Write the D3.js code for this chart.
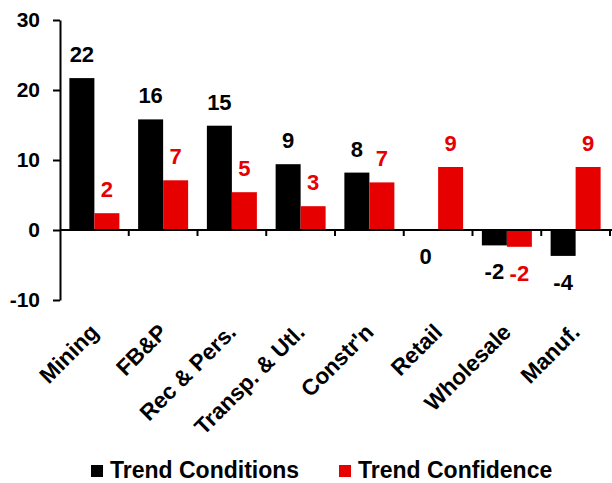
<!DOCTYPE html>
<html>
<head>
<meta charset="utf-8">
<script src="https://cdn.jsdelivr.net/npm/d3@7"></script>
<style>
  html, body { margin: 0; padding: 0; background: #fff; }
  svg { display: block; font-family: "Liberation Sans", Arial, sans-serif; font-weight: bold; }
</style>
</head>
<body>
<svg id="chart" width="612" height="483"></svg>
<script>
// Sectors and the two series plotted for each one
const categories = ["Mining", "FB&P", "Rec & Pers.", "Transp. & Utl.", "Constr'n", "Retail", "Wholesale", "Manuf."];
const trendConditions = [21.7, 15.8, 14.9, 9.4, 8.2, 0, -2.2, -3.7];
const trendConfidence = [2.4, 7.1, 5.4, 3.4, 6.8, 9.0, -2.4, 9.0];
const seriesNames = ["Trend Conditions", "Trend Confidence"];
const seriesColors = ["#000000", "#e60000"];
const yTicks = [-10, 0, 10, 20, 30];

const series = [trendConditions, trendConfidence];

// Whole numbers written with a plain hyphen for negatives
const fmt = d => String(Math.round(d));

const svg = d3.select("#chart");
const W = 612;

const y = d3.scaleLinear().domain([-10, 30]).range([300, 20]);
const x = d3.scaleBand().domain(categories).range([60, 610])
  .paddingInner(0.2727).paddingOuter(0.1364);
const xs = d3.scaleBand().domain([0, 1]).range([0, x.bandwidth()]);

// Bars
series.forEach((vals, si) => {
  svg.append("g")
    .selectAll("rect")
    .data(vals)
    .join("rect")
    .attr("x", (d, i) => x(categories[i]) + xs(si))
    .attr("width", xs.bandwidth())
    .attr("y", d => y(Math.max(0, d)))
    .attr("height", d => Math.abs(y(d) - y(0)))
    .attr("fill", seriesColors[si]);
});

// Value labels, above positive bars and below zero/negative ones
series.forEach((vals, si) => {
  svg.append("g")
    .selectAll("text")
    .data(vals)
    .join("text")
    .attr("x", (d, i) => x(categories[i]) + xs(si) + xs.bandwidth() / 2)
    .attr("y", d => d > 0 ? y(d) - 16 : y(d) + 34)
    .attr("text-anchor", "middle")
    .attr("font-size", 22)
    .attr("fill", seriesColors[si])
    .text(fmt);
});

// Y axis
const yAxis = svg.append("g")
  .attr("transform", "translate(60,0)")
  .call(d3.axisLeft(y).tickValues(yTicks).tickFormat(fmt).tickSize(7).tickPadding(13).tickSizeOuter(0));
yAxis.select(".domain").attr("stroke", "#000").attr("stroke-width", 2);
yAxis.selectAll(".tick line").attr("stroke", "#000").attr("stroke-width", 2);
yAxis.selectAll(".tick text").attr("font-size", 21).attr("font-family", "Liberation Sans, Arial, sans-serif")
  .attr("font-weight", "bold").attr("fill", "#000");

// X axis along zero, with ticks between categories
const xAxisG = svg.append("g").attr("transform", `translate(0,${y(0)})`);
xAxisG.append("line")
  .attr("x1", 60).attr("x2", W)
  .attr("stroke", "#000").attr("stroke-width", 2);
const step = x.step();
const bounds = d3.range(categories.length + 1).map(i => x.range()[0] + i * step);
xAxisG.selectAll("line.tick")
  .data(bounds.slice(1))
  .join("line")
  .attr("class", "tick")
  .attr("x1", d => d).attr("x2", d => d)
  .attr("y1", 0).attr("y2", 6)
  .attr("stroke", "#000").attr("stroke-width", 2);

// Rotated category labels below the plot
svg.append("g")
  .selectAll("text")
  .data(categories)
  .join("text")
  .attr("transform", d => `translate(${x(d) + x.bandwidth() / 2},328) rotate(-45)`)
  .attr("dy", "0.35em")
  .attr("text-anchor", "end")
  .attr("font-size", 22.5)
  .attr("fill", "#000")
  .text(d => d);

// Legend
const legendItems = [
  { name: seriesNames[0], color: seriesColors[0], x: 91 },
  { name: seriesNames[1], color: seriesColors[1], x: 339 }
];
const lg = svg.append("g");
legendItems.forEach(it => {
  lg.append("rect")
    .attr("x", it.x).attr("y", 465)
    .attr("width", 12).attr("height", 12)
    .attr("fill", it.color);
  lg.append("text")
    .attr("x", it.x + 19).attr("y", 478)
    .attr("font-size", 23)
    .attr("fill", "#000")
    .text(it.name);
});
</script>
</body>
</html>
